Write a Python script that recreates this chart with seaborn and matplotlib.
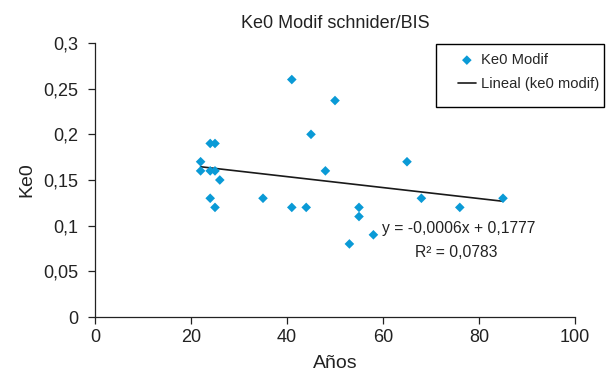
import matplotlib.patches as patches
import matplotlib.pyplot as plt
import matplotlib.ticker as mticker
import numpy as np
import pandas as pd
import seaborn as sns

# values
edad = [22, 22, 24, 25, 24, 25, 26, 24, 25, 35, 41, 41,
        44, 45, 48, 50, 53, 55, 55, 58, 65, 68, 76, 85]
ke0 = [0.17, 0.16, 0.19, 0.19, 0.16, 0.16, 0.15, 0.13, 0.12, 0.13, 0.26, 0.12,
       0.12, 0.20, 0.16, 0.237, 0.08, 0.12, 0.11, 0.09, 0.17, 0.13, 0.12, 0.13]
pendiente = -0.0006
intercepto = 0.1777
r2 = 0.0783
x_ticks = [0, 20, 40, 60, 80, 100]
y_ticks = [0, 0.05, 0.1, 0.15, 0.2, 0.25, 0.3]

sns.set_style("ticks")
plt.rcParams["font.family"] = ["Liberation Sans", "DejaVu Sans"]

df = pd.DataFrame({"edad": edad, "ke0": ke0})
x_fit = np.array([min(edad), max(edad)])
fit = pd.DataFrame({"edad": x_fit, "ke0": intercepto + pendiente * x_fit})

W, H = 606, 378
fig = plt.figure(figsize=(W / 100, H / 100), dpi=100)
ax = fig.add_axes([95 / W, 1 - 317 / H, 480 / W, 274 / H])

sns.scatterplot(data=df, x="edad", y="ke0", ax=ax, marker="D", s=24,
                color="#0a9ad6", edgecolor="none", label="Ke0 Modif", zorder=3)
sns.lineplot(data=fit, x="edad", y="ke0", ax=ax, color="#1a1a1a",
             linewidth=1.2, label="Lineal (ke0 modif)", zorder=2)

ax.set_xlim(0, 100)
ax.set_ylim(0, 0.3)
ax.set_xticks(x_ticks)
ax.set_yticks(y_ticks)
coma = mticker.FuncFormatter(lambda v, p: f"{v:g}".replace(".", ","))
ax.xaxis.set_major_formatter(coma)
ax.yaxis.set_major_formatter(coma)
ax.tick_params(axis="both", labelsize=13, length=5, width=0.9,
               color="#222222", labelcolor="#222222")
ax.tick_params(axis="x", pad=4)
ax.tick_params(axis="y", pad=7)
for s in ["left", "bottom"]:
    ax.spines[s].set_linewidth(0.9)
    ax.spines[s].set_color("#222222")
sns.despine(ax=ax)

ax.set_xlabel("Años", fontsize=14, color="#222222", labelpad=6)
ax.set_ylabel("Ke0", fontsize=14, color="#222222", labelpad=6)
ax.set_title("Ke0 Modif schnider/BIS", fontsize=13, color="#222222", pad=11)

ax.text(75.7, 0.0969, f"y = {pendiente:.4f}x + {intercepto:.4f}".replace(".", ","),
        ha="center", va="center", fontsize=11.3, color="#222222")
ax.text(75.3, 0.0706, f"R² = {r2:.4f}".replace(".", ","),
        ha="center", va="center", fontsize=11.3, color="#222222")

# legend text without frame, box drawn separately like the reference
leg = ax.legend(loc="upper left", bbox_to_anchor=(458 / W, 1 - 53 / H),
                bbox_transform=fig.transFigure, fontsize=10.6, frameon=False,
                handlelength=1.2, borderpad=0, borderaxespad=0,
                labelspacing=0.68, handletextpad=0.35)
box = patches.Rectangle((436 / W, 1 - 107 / H), 168 / W, 63 / H,
                        transform=fig.transFigure, facecolor="none",
                        edgecolor="black", linewidth=1.0, zorder=5)
fig.add_artist(box)

fig.savefig("out.png", dpi=100)
